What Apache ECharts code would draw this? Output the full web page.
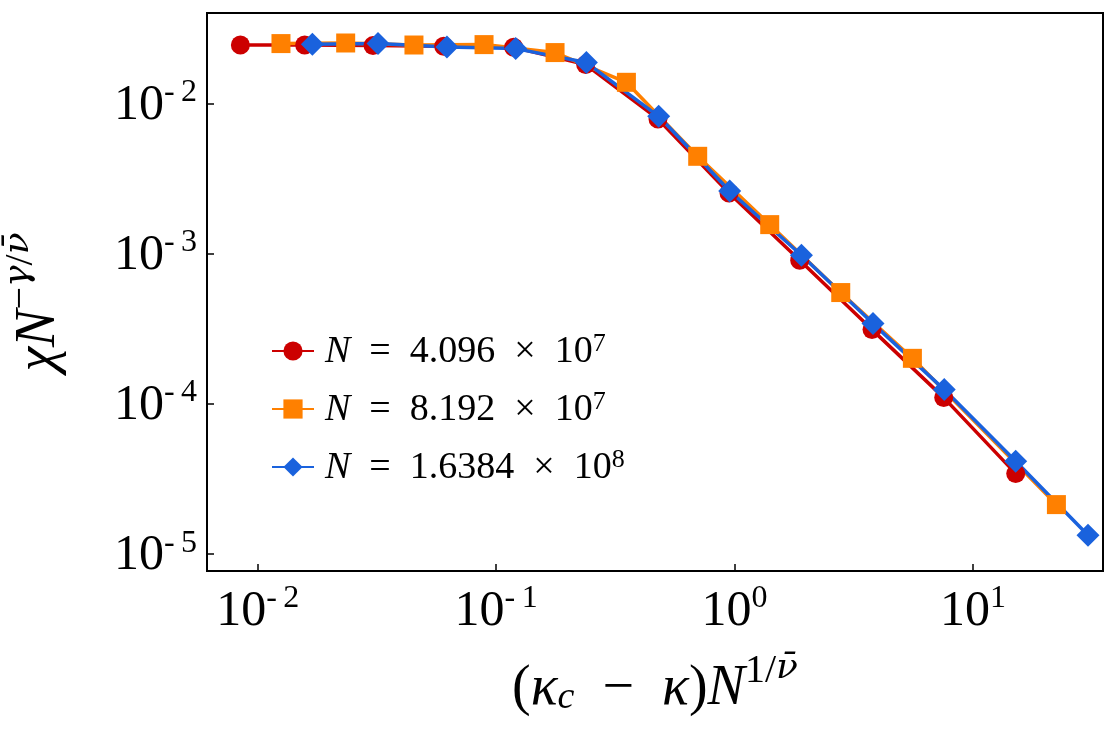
<!DOCTYPE html>
<html>
<head>
<meta charset="utf-8">
<script src="https://cdn.jsdelivr.net/npm/echarts@6/dist/echarts.min.js"></script>
<style>
  html, body { margin: 0; padding: 0; background: #fff; }
  #chart { width: 1116px; height: 750px; }
</style>
</head>
<body>
<div id="chart"></div>
<script>
// scaled data
const xRed = [0.00846, 0.01574, 0.03046, 0.0603, 0.1185, 0.2375, 0.4775, 0.9484, 1.877, 3.774, 7.544, 15.12];
const yRed = [0.02455, 0.02455, 0.02433, 0.02406, 0.0237, 0.01818, 0.0079, 0.00254, 0.000905, 0.0003128, 0.0001103, 0.0000344];

const xOrange = [0.01252, 0.02339, 0.04523, 0.089, 0.1767, 0.352, 0.7008, 1.405, 2.79, 5.574, 22.4];
const yOrange = [0.02509, 0.02532, 0.02455, 0.0247, 0.02186, 0.01386, 0.004457, 0.001564, 0.000552, 0.0002014, 0.00002139];

const xBlue = [0.01696, 0.03196, 0.0622, 0.1208, 0.2392, 0.4808, 0.9548, 1.909, 3.811, 7.58, 15.12, 30.4];
const yBlue = [0.02482, 0.02509, 0.02381, 0.02323, 0.01875, 0.00823, 0.002619, 0.000977, 0.000343, 0.0001247, 0.00004155, 0.00001336];

const mantissa = ['4.096', '8.192', '1.6384'];
const exponent = ['7', '7', '8'];
const seriesNames = mantissa.map((m, i) => 'N = ' + m + ' × 10^' + exponent[i]);

const FONT = 'Liberation Serif';
const zip = (xs, ys) => xs.map((x, i) => [x, ys[i]]);

const chart = echarts.init(document.getElementById('chart'));

function tickLabel(v) {
  const e = Math.round(Math.log10(v));
  return e < 0 ? '{b|10}{s|-\u2009' + (-e) + '}' : '{b|10}{s|' + e + '}';
}

const tickRich = {
  b: { fontFamily: FONT, fontSize: 50, color: '#000', lineHeight: 54, verticalAlign: 'bottom' },
  s: { fontFamily: FONT, fontSize: 32, color: '#000', lineHeight: 36, verticalAlign: 'top' }
};

const nameRich = {
  r: { fontFamily: FONT, fontSize: 56, color: '#000', lineHeight: 66, verticalAlign: 'bottom' },
  i: { fontFamily: FONT, fontSize: 56, fontStyle: 'italic', color: '#000', lineHeight: 66, verticalAlign: 'bottom' },
  sub: { fontFamily: FONT, fontSize: 38, fontStyle: 'italic', color: '#000', lineHeight: 50, verticalAlign: 'bottom' },
  sup: { fontFamily: FONT, fontSize: 40, color: '#000', lineHeight: 48, verticalAlign: 'top' },
  supi: { fontFamily: 'DejaVu Serif', fontSize: 36, fontStyle: 'italic', color: '#000', lineHeight: 48, verticalAlign: 'top' }
};

const mkSeries = (name, xs, ys, color, symbol, size) => ({
  name: name,
  type: 'line',
  data: zip(xs, ys),
  symbol: symbol,
  symbolSize: size,
  showAllSymbol: true,
  color: color,
  lineStyle: { color: color, width: 3.5 },
  itemStyle: { color: color },
  emphasis: { disabled: true },
  animation: false
});

const option = {
  backgroundColor: '#fff',
  grid: {
    left: 207, top: 13, right: 13, bottom: 179,
    outerBoundsMode: 'none',
    containLabel: false,
    show: true, borderColor: '#000', borderWidth: 2, backgroundColor: 'transparent'
  },
  legend: {
    orient: 'vertical',
    left: 266,
    top: 326,
    itemWidth: 42,
    itemHeight: 24,
    itemGap: 18,
    data: seriesNames,
    formatter: name => {
      const i = seriesNames.indexOf(name);
      return '{g|}{i|N}{t|\u2002=\u2002' + mantissa[i] + '\u2002×\u200210}{s|' + exponent[i] + '}';
    },
    textStyle: {
      rich: {
        g: { width: 6 },
        i: { fontFamily: FONT, fontSize: 38, fontStyle: 'italic', color: '#000', lineHeight: 40, verticalAlign: 'bottom' },
        t: { fontFamily: FONT, fontSize: 38, color: '#000', lineHeight: 40, verticalAlign: 'bottom' },
        s: { fontFamily: FONT, fontSize: 26, color: '#000', lineHeight: 22, verticalAlign: 'top' }
      }
    }
  },
  xAxis: {
    type: 'log',
    logBase: 10,
    min: 0.006128,
    max: 35.13,
    splitLine: { show: false },
    minorTick: { show: false },
    axisLine: { show: false },
    axisTick: { show: true, inside: true, length: 7, lineStyle: { color: '#000', width: 1.5 } },
    axisLabel: {
      margin: 12,
      showMinLabel: false,
      showMaxLabel: false,
      formatter: tickLabel,
      rich: tickRich
    },
    name: '{r|(}{i|κ}{sub|c}{r|\u2002−\u2002}{i|κ}{r|)}{i|N}{sup|1/}{supi|ν̄}',
    nameLocation: 'middle',
    nameGap: 80,
    nameTextStyle: { rich: nameRich }
  },
  yAxis: {
    type: 'log',
    logBase: 10,
    min: 0.00000773,
    max: 0.0401,
    splitLine: { show: false },
    minorTick: { show: false },
    axisLine: { show: false },
    axisTick: { show: true, inside: true, length: 7, lineStyle: { color: '#000', width: 1.5 } },
    axisLabel: {
      margin: 10,
      showMinLabel: false,
      showMaxLabel: false,
      formatter: tickLabel,
      rich: tickRich
    },
    name: '{i|χN}{sup|−}{supi|γ}{sup|/}{supi|ν̄}',
    nameLocation: 'middle',
    nameGap: 140,
    nameTextStyle: { rich: nameRich, padding: [0, 20, 0, 0] }
  },
  series: [
    mkSeries(seriesNames[0], xRed, yRed, '#cc0000', 'circle', 19),
    mkSeries(seriesNames[1], xOrange, yOrange, '#ff8000', 'rect', 19),
    mkSeries(seriesNames[2], xBlue, yBlue, '#1a62dd', 'diamond', 23)
  ]
};

chart.setOption(option);
</script>
</body>
</html>
